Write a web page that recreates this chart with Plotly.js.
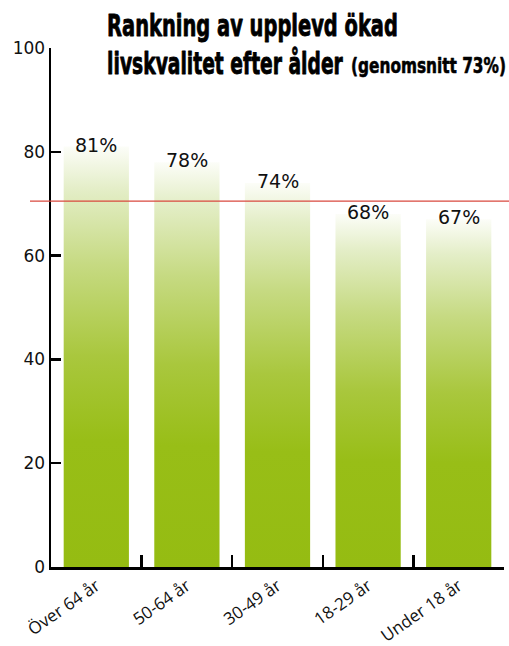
<!DOCTYPE html>
<html>
<head>
<meta charset="utf-8">
<script src="https://cdn.plot.ly/plotly-3.0.1.min.js"></script>
<style>
  html, body { margin: 0; padding: 0; background: #fff; }
  #chart { width: 509px; height: 646px; }
</style>
</head>
<body>
<div id="chart"></div>
<script>
// ---- data ----
const categories = ["Över 64 år", "50-64 år", "30-49 år", "18-29 år", "Under 18 år"];
const values = [81, 78, 74, 68, 67];
const valueLabels = ["81%", "78%", "74%", "68%", "67%"];
const avgLineValue = 70.5;
const yTicks = [0, 20, 40, 60, 80, 100];
const titleLine1 = "Rankning av upplevd ökad";
const titleLine2 = "livskvalitet efter ålder";
const titleSub = "(genomsnitt 73%)";

// plot area geometry (pixels)
const PL = 51, PR = 504, PT = 48, PB = 567;
const px2x = px => (px - PL) / (PR - PL);
const px2y = py => (PB - py) / (PB - PT);

const trace = {
  type: "bar",
  x: categories,
  y: values,
  marker: { color: "#97bd13", line: { width: 0 } },
  hoverinfo: "none"
};

// title annotations; target widths used for horizontal condensing
const titleAnns = [
  { text: "<b>" + titleLine1 + "</b>", xpx: 106, ypx: 44, size: 30, target: 291 },
  { text: "<b>" + titleLine2 + "</b>", xpx: 106, ypx: 82, size: 30, target: 236 },
  { text: "<b>" + titleSub + "</b>", xpx: 350, ypx: 79, size: 21, target: 155 }
];

const annotations = titleAnns.map(a => ({
  text: a.text,
  xref: "paper", yref: "paper",
  x: px2x(a.xpx), y: px2y(a.ypx),
  xanchor: "left", yanchor: "bottom",
  showarrow: false,
  borderpad: 0,
  font: { family: "DejaVu Sans, sans-serif", size: a.size, color: "#000" }
}));

categories.forEach((c, i) => {
  annotations.push({
    text: valueLabels[i],
    x: c, y: values[i],
    xref: "x", yref: "y",
    xanchor: "center", yanchor: "bottom",
    yshift: -10,
    showarrow: false,
    borderpad: 0,
    font: { family: "DejaVu Sans, sans-serif", size: 19, color: "#111" }
  });
});

const layout = {
  width: 509,
  height: 646,
  margin: { l: PL, r: 509 - PR, t: PT, b: 646 - PB },
  paper_bgcolor: "#fff",
  plot_bgcolor: "#fff",
  showlegend: false,
  bargap: 0.28,
  annotations: annotations,
  xaxis: {
    type: "category",
    tickson: "boundaries",
    ticks: "inside",
    ticklen: 12,
    tickwidth: 2.5,
    tickcolor: "#000",
    showline: true,
    linewidth: 2.5,
    linecolor: "#000",
    showgrid: false,
    tickangle: -35,
    tickfont: { family: "Open Sans, sans-serif", size: 17, color: "#111" },
    fixedrange: true
  },
  yaxis: {
    range: [0, 100],
    tickvals: yTicks,
    ticktext: yTicks.map(String),
    ticks: "inside",
    ticklen: 10,
    tickwidth: 2.5,
    tickcolor: "#000",
    showline: true,
    linewidth: 2.5,
    linecolor: "#000",
    showgrid: false,
    zeroline: false,
    tickfont: { family: "DejaVu Sans, sans-serif", size: 17, color: "#111" },
    fixedrange: true
  },
  shapes: [{
    type: "line",
    xref: "paper",
    yref: "y",
    x0: px2x(30),
    x1: px2x(509),
    y0: avgLineValue,
    y1: avgLineValue,
    line: { color: "#d9483e", width: 1.2 },
    layer: "above"
  }]
};

function postProcess(gd) {
  const svg = gd.querySelector("svg.main-svg");
  if (!svg) return;
  const ns = "http://www.w3.org/2000/svg";
  let defs = svg.querySelector("defs");
  if (!defs) { defs = document.createElementNS(ns, "defs"); svg.insertBefore(defs, svg.firstChild); }
  if (!svg.querySelector("#barGrad")) {
    const g = document.createElementNS(ns, "linearGradient");
    g.setAttribute("id", "barGrad");
    g.setAttribute("x1", "0"); g.setAttribute("y1", "1");
    g.setAttribute("x2", "0"); g.setAttribute("y2", "0");
    const stops = [
      [0, "#95bc12"], [0.3, "#98be17"], [0.5, "#a9c73d"],
      [0.72, "#c6da82"], [0.9, "#e4eec8"], [1, "#fcfdf8"]
    ];
    stops.forEach(([o, c]) => {
      const s = document.createElementNS(ns, "stop");
      s.setAttribute("offset", o);
      s.setAttribute("stop-color", c);
      g.appendChild(s);
    });
    defs.appendChild(g);
  }
  gd.querySelectorAll(".barlayer .point path").forEach(p => {
    p.style.fill = "url(#barGrad)";
  });
  // condense the bold title lines horizontally (still real text)
  const annTexts = gd.querySelectorAll(".annotation .annotation-text");
  titleAnns.forEach((a, i) => {
    const t = annTexts[i];
    if (!t) return;
    t.removeAttribute("transform");
    const bb = t.getBBox();
    const s = a.target / bb.width;
    const x0 = bb.x;
    t.setAttribute("transform", `translate(${x0},0) scale(${s},1) translate(${-x0},0)`);
    t.style.stroke = "#000";
    t.style.strokeWidth = a.size > 25 ? "0.9px" : "0.6px";
    t.style.strokeLinejoin = "round";
  });
}

const gd = document.getElementById("chart");
Plotly.newPlot(gd, [trace], layout, { displayModeBar: false, staticPlot: true }).then(() => {
  postProcess(gd);
  gd.on("plotly_afterplot", () => postProcess(gd));
});
</script>
</body>
</html>
